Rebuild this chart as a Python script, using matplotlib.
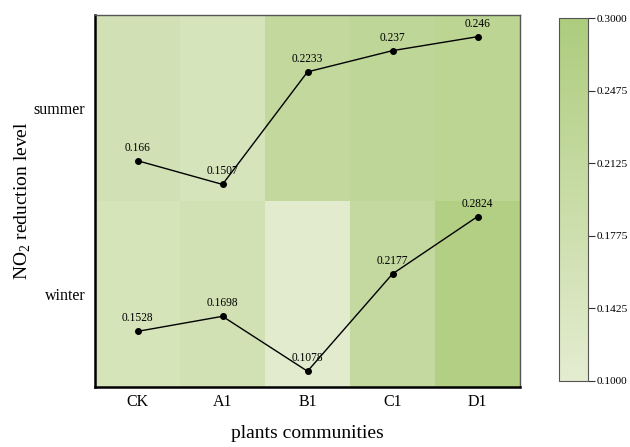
import matplotlib
matplotlib.use("Agg")
import matplotlib.pyplot as plt
import numpy as np
from matplotlib.colors import LinearSegmentedColormap, Normalize

plt.rcParams['font.family'] = ['Liberation Serif', 'DejaVu Serif']
plt.rcParams['mathtext.fontset'] = 'custom'
plt.rcParams['mathtext.rm'] = 'Liberation Serif'

communities = ["CK", "A1", "B1", "C1", "D1"]
seasons = ["winter", "summer"]
summer = [0.166, 0.1507, 0.2233, 0.237, 0.246]
winter = [0.1528, 0.1698, 0.1078, 0.2177, 0.2824]
summer_labels = ["0.166", "0.1507", "0.2233", "0.237", "0.246"]
winter_labels = ["0.1528", "0.1698", "0.1078", "0.2177", "0.2824"]
cbar_labels = ["0.1000", "0.1425", "0.1775", "0.2125", "0.2475", "0.3000"]
vmin, vmax = 0.1, 0.3
summer_ylim = (0.14, 0.26)
winter_ylim = (0.09, 0.30)

cmap = LinearSegmentedColormap.from_list("g", ["#e4ecd0", "#adcc7d"])
norm = Normalize(vmin, vmax)

fig = plt.figure(figsize=(6.3, 4.47), dpi=100)
ax = fig.add_axes([95/630, 1-387/447, 425/630, 372/447])
data = np.array([winter, summer])
mesh = ax.pcolormesh(np.arange(6), np.arange(3), data, cmap=cmap, norm=norm)
ax.set_xlim(0, 5)
ax.set_ylim(0, 2)
ax.set_xticks(np.arange(5) + 0.5)
ax.set_xticklabels(communities, fontsize=11.5)
ax.set_yticks([0.5, 1.5])
ax.set_yticklabels(seasons, fontsize=11.5)
ax.tick_params(axis='y', length=0, pad=7)
ax.tick_params(axis='x', length=0, pad=5)
for s in ['top', 'right']:
    ax.spines[s].set_color('#555555')
    ax.spines[s].set_linewidth(1)
for s in ['left', 'bottom']:
    ax.spines[s].set_color('black')
    ax.spines[s].set_linewidth(1.8)
ax.set_xlabel("plants communities", fontsize=14, labelpad=11)
ax.set_ylabel("NO$_2$ reduction level", fontsize=14, labelpad=0.5)

# line overlays per row
x = np.arange(5) + 0.5
for row, vals, labs, ylim in [(1, summer, summer_labels, summer_ylim),
                              (0, winter, winter_labels, winter_ylim)]:
    sub = ax.inset_axes([0, row / 2, 1, 0.5])
    sub.set_xlim(0, 5)
    sub.set_ylim(*ylim)
    sub.axis('off')
    sub.patch.set_alpha(0)
    sub.plot(x, vals, color='black', lw=1, marker='o', ms=4)
    for xi, v, l in zip(x, vals, labs):
        sub.annotate(l, (xi, v), xytext=(0, 5), textcoords='offset points',
                     ha='center', va='bottom', fontsize=8.3)

cax = fig.add_axes([559/630, 1-381/447, 29/630, 363/447])
cb = fig.colorbar(mesh, cax=cax)
cb.set_ticks(np.linspace(vmin, vmax, len(cbar_labels)))
cb.ax.set_yticklabels(cbar_labels, fontsize=8.2)
cb.ax.tick_params(length=5, width=0.8, color='#333333', pad=1)
cb.outline.set_edgecolor('#555555')
cb.outline.set_linewidth(0.8)

fig.savefig("out.png", dpi=100)
